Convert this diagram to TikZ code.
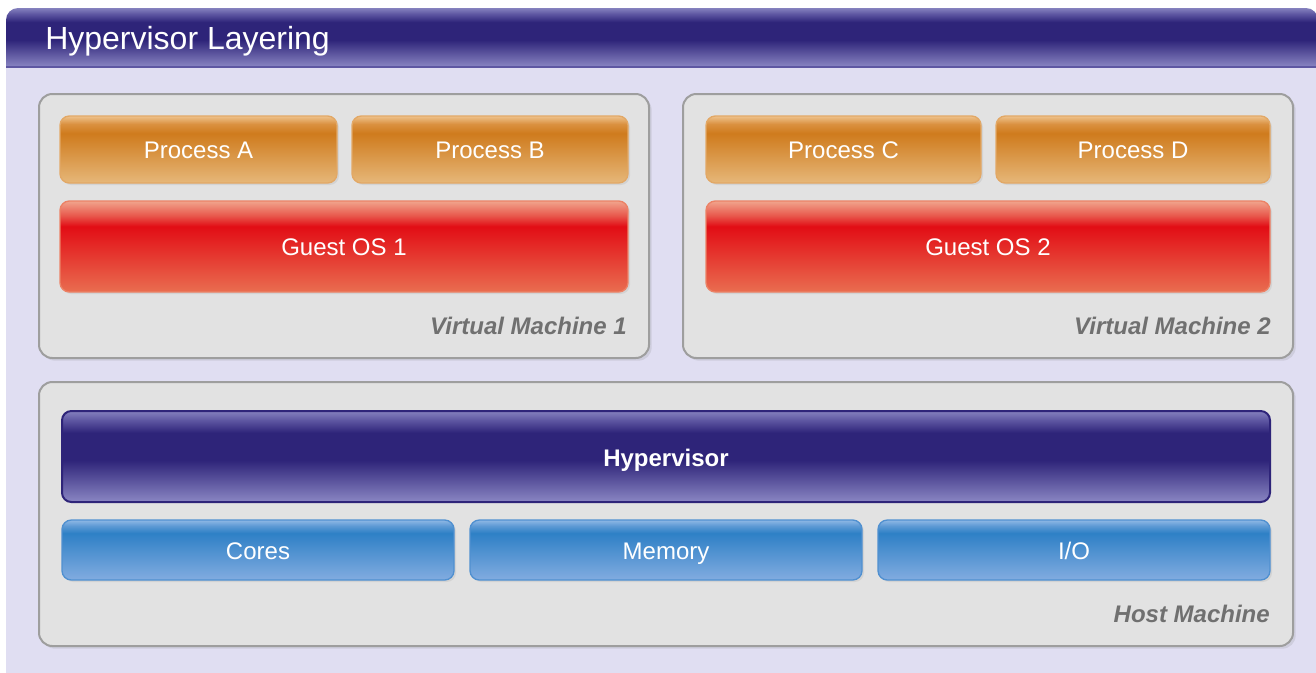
\documentclass[tikz,border=0pt]{standalone}
\usepackage{fontspec}
\setmainfont{Liberation Sans}
\usetikzlibrary{shadows}

\definecolor{panel}{HTML}{E0DEF2}
\definecolor{boxgray}{HTML}{E2E2E2}
\definecolor{boxline}{HTML}{9E9E9E}
\definecolor{labelgray}{HTML}{707070}
\definecolor{orlow}{HTML}{E6B779}
\definecolor{ordark}{HTML}{CF7B1D}
\definecolor{ormid}{HTML}{DA9140}
\definecolor{ortop}{HTML}{EEC28C}
\definecolor{orline}{HTML}{E2A866}
\definecolor{redlow}{HTML}{E96D50}
\definecolor{reddark}{HTML}{E20D15}
\definecolor{redmid}{HTML}{E8584C}
\definecolor{redtop}{HTML}{F1A48C}
\definecolor{redline}{HTML}{EC8266}
\definecolor{bluelow}{HTML}{82ACE0}
\definecolor{bluedark}{HTML}{2E80C6}
\definecolor{bluemid}{HTML}{5C99D4}
\definecolor{bluetop}{HTML}{8FB8E5}
\definecolor{blueline}{HTML}{5090D0}
\definecolor{purlow}{HTML}{8A86C3}
\definecolor{purdark}{HTML}{2E2479}
\definecolor{purmid}{HTML}{5E57A2}
\definecolor{purtop}{HTML}{8581BE}

\pgfdeclareverticalshading{orangegloss}{100bp}{color(0bp)=(orlow); color(25bp)=(orlow);
  color(62bp)=(ordark); color(69bp)=(ormid); color(75bp)=(ortop); color(100bp)=(ortop)}
\pgfdeclareverticalshading{redgloss}{100bp}{color(0bp)=(redlow); color(25bp)=(redlow);
  color(61bp)=(reddark); color(67bp)=(redmid); color(75bp)=(redtop); color(100bp)=(redtop)}
\pgfdeclareverticalshading{bluegloss}{100bp}{color(0bp)=(bluelow); color(25bp)=(bluelow);
  color(64bp)=(bluedark); color(70bp)=(bluemid); color(75bp)=(bluetop); color(100bp)=(bluetop)}
\pgfdeclareverticalshading{purplegloss}{100bp}{color(0bp)=(purlow); color(25bp)=(purlow);
  color(48bp)=(purdark); color(63bp)=(purdark); color(70bp)=(purmid); color(75bp)=(purtop); color(100bp)=(purtop)}

\tikzset{
  vmbox/.style={fill=boxgray,draw=boxline,line width=1.5pt,rounded corners=10pt,
    drop shadow={opacity=0.18,shadow xshift=2pt,shadow yshift=-2pt}},
  procbox/.style={shading=orangegloss,draw=orline,line width=1pt,rounded corners=7pt,
    drop shadow={opacity=0.15,shadow xshift=1.5pt,shadow yshift=-1.5pt}},
  guestbox/.style={shading=redgloss,draw=redline,line width=1pt,rounded corners=7pt,
    drop shadow={opacity=0.15,shadow xshift=1.5pt,shadow yshift=-1.5pt}},
  hwbox/.style={shading=bluegloss,draw=blueline,line width=1pt,rounded corners=7pt,
    drop shadow={opacity=0.15,shadow xshift=1.5pt,shadow yshift=-1.5pt}},
  hyperbox/.style={shading=purplegloss,draw=purdark,line width=1.5pt,rounded corners=7pt},
  boxtext/.style={text=white,font=\fontsize{18}{20}\selectfont,inner sep=0pt,
    text height=12.9pt,text depth=0pt},
  vmlabel/.style={text=labelgray,font=\fontsize{18}{20}\selectfont\bfseries\itshape,
    anchor=east,inner sep=0pt,text height=12.9pt,text depth=0pt}
}

\begin{document}
\begin{tikzpicture}[x=0.75pt,y=-0.75pt]
\useasboundingbox (0,0) rectangle (1316,672);
\fill[white] (0,0) rectangle (1316,672);
\fill[panel] (6,67) rectangle (1330,680);
% title bar
\shade[shading=purplegloss] (6,67) [rounded corners=9pt] -- (6,8) -- (1318,8) [sharp corners] -- (1318,67) -- cycle;
\draw[purmid,line width=1pt] (6,67) -- (1316,67);
\node[text=white,font=\fontsize{24}{26}\selectfont,anchor=west,inner sep=0pt,
  text height=17.2pt,text depth=0pt] (title) at (45,38) {Hypervisor Layering};

% virtual machine 1
\path[vmbox] (39,94) rectangle (649,358);
\shadedraw[procbox] (60,116) rectangle (337,183);
\node[boxtext] (procA) at (198.5,150) {Process A};
\shadedraw[procbox] (352,116) rectangle (628,183);
\node[boxtext] (procB) at (490,150) {Process B};
\shadedraw[guestbox] (60,201) rectangle (628,292);
\node[boxtext] (guest1) at (344,247) {Guest OS 1};
\node[vmlabel] (vm1) at (627,326) {Virtual Machine 1};

% virtual machine 2
\path[vmbox] (683,94) rectangle (1293,358);
\shadedraw[procbox] (706,116) rectangle (981,183);
\node[boxtext] (procC) at (843.5,150) {Process C};
\shadedraw[procbox] (996,116) rectangle (1270,183);
\node[boxtext] (procD) at (1133,150) {Process D};
\shadedraw[guestbox] (706,201) rectangle (1270,292);
\node[boxtext] (guest2) at (988,247) {Guest OS 2};
\node[vmlabel] (vm2) at (1271,326) {Virtual Machine 2};

% host machine
\path[vmbox] (39,382) rectangle (1293,646);
\shadedraw[hyperbox] (62,411) rectangle (1270,502);
\node[boxtext,font=\fontsize{18}{20}\selectfont\bfseries] (hyper) at (666,458) {Hypervisor};
\shadedraw[hwbox] (62,520) rectangle (454,580);
\node[boxtext] (cores) at (258,551) {Cores};
\shadedraw[hwbox] (470,520) rectangle (862,580);
\node[boxtext] (mem) at (666,551) {Memory};
\shadedraw[hwbox] (878,520) rectangle (1270,580);
\node[boxtext] (io) at (1074,551) {I/O};
\node[vmlabel] (host) at (1270,614) {Host Machine};
\end{tikzpicture}
\end{document}
